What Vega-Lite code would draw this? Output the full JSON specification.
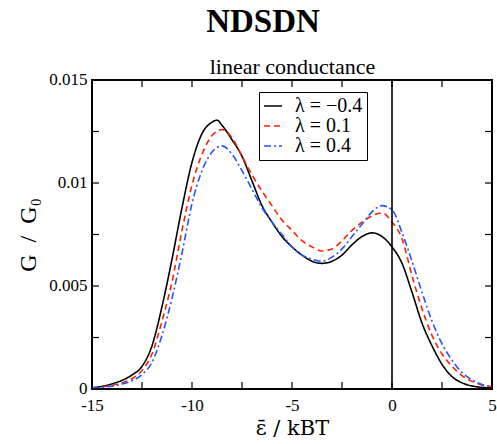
{
  "$schema": "https://vega.github.io/schema/vega-lite/v6.json",
  "autosize": "none",
  "width": 400,
  "height": 309,
  "padding": {"left": 92, "top": 80, "right": 5, "bottom": 55},
  "background": "white",
  "title": {
    "text": "NDSDN",
    "font": "Liberation Serif",
    "fontSize": 33,
    "fontWeight": "bold",
    "color": "black",
    "anchor": "middle",
    "dx": -29,
    "offset": 16
  },
  "datasets": {
    "xticks": [{"tv": -15}, {"tv": -12.5}, {"tv": -10}, {"tv": -7.5}, {"tv": -5}, {"tv": -2.5}, {"tv": 0}, {"tv": 2.5}, {"tv": 5}],
    "yticks": [{"gv": 0}, {"gv": 0.0025}, {"gv": 0.005}, {"gv": 0.0075}, {"gv": 0.01}, {"gv": 0.0125}, {"gv": 0.015}]
  },
  "data": {
    "values": [
      {"x": -15, "G": 0.00006, "series": "l1"},
      {"x": -14.5, "G": 0.00013, "series": "l1"},
      {"x": -14, "G": 0.00025, "series": "l1"},
      {"x": -13.5, "G": 0.00042, "series": "l1"},
      {"x": -13, "G": 0.00068, "series": "l1"},
      {"x": -12.5, "G": 0.0011, "series": "l1"},
      {"x": -12, "G": 0.0021, "series": "l1"},
      {"x": -11.5, "G": 0.0040, "series": "l1"},
      {"x": -11, "G": 0.0063, "series": "l1"},
      {"x": -10.5, "G": 0.0088, "series": "l1"},
      {"x": -10, "G": 0.0110, "series": "l1"},
      {"x": -9.5, "G": 0.0124, "series": "l1"},
      {"x": -9, "G": 0.01295, "series": "l1"},
      {"x": -8.75, "G": 0.01305, "series": "l1"},
      {"x": -8.5, "G": 0.0128, "series": "l1"},
      {"x": -8, "G": 0.0121, "series": "l1"},
      {"x": -7.5, "G": 0.0113, "series": "l1"},
      {"x": -7, "G": 0.0101, "series": "l1"},
      {"x": -6.5, "G": 0.0089, "series": "l1"},
      {"x": -6, "G": 0.0081, "series": "l1"},
      {"x": -5.5, "G": 0.0074, "series": "l1"},
      {"x": -5, "G": 0.0069, "series": "l1"},
      {"x": -4.5, "G": 0.0065, "series": "l1"},
      {"x": -4, "G": 0.0062, "series": "l1"},
      {"x": -3.5, "G": 0.0061, "series": "l1"},
      {"x": -3, "G": 0.0062, "series": "l1"},
      {"x": -2.5, "G": 0.0065, "series": "l1"},
      {"x": -2, "G": 0.0070, "series": "l1"},
      {"x": -1.5, "G": 0.0074, "series": "l1"},
      {"x": -1, "G": 0.00758, "series": "l1"},
      {"x": -0.5, "G": 0.0074, "series": "l1"},
      {"x": 0, "G": 0.0069, "series": "l1"},
      {"x": 0.5, "G": 0.0061, "series": "l1"},
      {"x": 1, "G": 0.0047, "series": "l1"},
      {"x": 1.5, "G": 0.0032, "series": "l1"},
      {"x": 2, "G": 0.0021, "series": "l1"},
      {"x": 2.5, "G": 0.0012, "series": "l1"},
      {"x": 3, "G": 0.0006, "series": "l1"},
      {"x": 3.5, "G": 0.0003, "series": "l1"},
      {"x": 4, "G": 0.00015, "series": "l1"},
      {"x": 4.5, "G": 0.00008, "series": "l1"},
      {"x": 5, "G": 0.00005, "series": "l1"},

      {"x": -15, "G": 0.00005, "series": "l2"},
      {"x": -14.5, "G": 0.0001, "series": "l2"},
      {"x": -14, "G": 0.00018, "series": "l2"},
      {"x": -13.5, "G": 0.0003, "series": "l2"},
      {"x": -13, "G": 0.0005, "series": "l2"},
      {"x": -12.5, "G": 0.0009, "series": "l2"},
      {"x": -12, "G": 0.0017, "series": "l2"},
      {"x": -11.5, "G": 0.0033, "series": "l2"},
      {"x": -11, "G": 0.0052, "series": "l2"},
      {"x": -10.5, "G": 0.0077, "series": "l2"},
      {"x": -10, "G": 0.0099, "series": "l2"},
      {"x": -9.5, "G": 0.0114, "series": "l2"},
      {"x": -9, "G": 0.0123, "series": "l2"},
      {"x": -8.5, "G": 0.0126, "series": "l2"},
      {"x": -8, "G": 0.0122, "series": "l2"},
      {"x": -7.5, "G": 0.0113, "series": "l2"},
      {"x": -7, "G": 0.0104, "series": "l2"},
      {"x": -6.5, "G": 0.0096, "series": "l2"},
      {"x": -6, "G": 0.0089, "series": "l2"},
      {"x": -5.5, "G": 0.0082, "series": "l2"},
      {"x": -5, "G": 0.0077, "series": "l2"},
      {"x": -4.5, "G": 0.0072, "series": "l2"},
      {"x": -4, "G": 0.0069, "series": "l2"},
      {"x": -3.5, "G": 0.0067, "series": "l2"},
      {"x": -3, "G": 0.0068, "series": "l2"},
      {"x": -2.5, "G": 0.0072, "series": "l2"},
      {"x": -2, "G": 0.0077, "series": "l2"},
      {"x": -1.5, "G": 0.0081, "series": "l2"},
      {"x": -1, "G": 0.0084, "series": "l2"},
      {"x": -0.5, "G": 0.00855, "series": "l2"},
      {"x": 0, "G": 0.0081, "series": "l2"},
      {"x": 0.5, "G": 0.0073, "series": "l2"},
      {"x": 1, "G": 0.0055, "series": "l2"},
      {"x": 1.5, "G": 0.0039, "series": "l2"},
      {"x": 2, "G": 0.0026, "series": "l2"},
      {"x": 2.5, "G": 0.0017, "series": "l2"},
      {"x": 3, "G": 0.0011, "series": "l2"},
      {"x": 3.5, "G": 0.00065, "series": "l2"},
      {"x": 4, "G": 0.00037, "series": "l2"},
      {"x": 4.5, "G": 0.0002, "series": "l2"},
      {"x": 5, "G": 0.0001, "series": "l2"},

      {"x": -15, "G": 0.00004, "series": "l3"},
      {"x": -14.5, "G": 0.00008, "series": "l3"},
      {"x": -14, "G": 0.00014, "series": "l3"},
      {"x": -13.5, "G": 0.00024, "series": "l3"},
      {"x": -13, "G": 0.0004, "series": "l3"},
      {"x": -12.5, "G": 0.0007, "series": "l3"},
      {"x": -12, "G": 0.0013, "series": "l3"},
      {"x": -11.5, "G": 0.0026, "series": "l3"},
      {"x": -11, "G": 0.0044, "series": "l3"},
      {"x": -10.5, "G": 0.0066, "series": "l3"},
      {"x": -10, "G": 0.0090, "series": "l3"},
      {"x": -9.5, "G": 0.0106, "series": "l3"},
      {"x": -9, "G": 0.0115, "series": "l3"},
      {"x": -8.5, "G": 0.0118, "series": "l3"},
      {"x": -8, "G": 0.0114, "series": "l3"},
      {"x": -7.5, "G": 0.0106, "series": "l3"},
      {"x": -7, "G": 0.0097, "series": "l3"},
      {"x": -6.5, "G": 0.0088, "series": "l3"},
      {"x": -6, "G": 0.0081, "series": "l3"},
      {"x": -5.5, "G": 0.0075, "series": "l3"},
      {"x": -5, "G": 0.0069, "series": "l3"},
      {"x": -4.5, "G": 0.0065, "series": "l3"},
      {"x": -4, "G": 0.0063, "series": "l3"},
      {"x": -3.5, "G": 0.0062, "series": "l3"},
      {"x": -3, "G": 0.0064, "series": "l3"},
      {"x": -2.5, "G": 0.0068, "series": "l3"},
      {"x": -2, "G": 0.0074, "series": "l3"},
      {"x": -1.5, "G": 0.0080, "series": "l3"},
      {"x": -1, "G": 0.0086, "series": "l3"},
      {"x": -0.5, "G": 0.0089, "series": "l3"},
      {"x": 0, "G": 0.0087, "series": "l3"},
      {"x": 0.5, "G": 0.0076, "series": "l3"},
      {"x": 1, "G": 0.0062, "series": "l3"},
      {"x": 1.5, "G": 0.0047, "series": "l3"},
      {"x": 2, "G": 0.0033, "series": "l3"},
      {"x": 2.5, "G": 0.0022, "series": "l3"},
      {"x": 3, "G": 0.0014, "series": "l3"},
      {"x": 3.5, "G": 0.0008, "series": "l3"},
      {"x": 4, "G": 0.00045, "series": "l3"},
      {"x": 4.5, "G": 0.00022, "series": "l3"},
      {"x": 5, "G": 0.0001, "series": "l3"}
    ]
  },
  "layer": [
    {
      "mark": {"type": "line", "interpolate": "monotone", "strokeWidth": 1.6, "clip": true},
      "encoding": {
        "x": {
          "field": "x", "type": "quantitative",
          "scale": {"domain": [-15, 5], "nice": false, "zero": false},
          "axis": {
            "orient": "bottom",
            "values": [-15, -10, -5, 0, 5],
            "labelExpr": "'' + datum.value",
            "ticks": false,
            "labelPadding": 8,
            "labelFlush": false,
            "title": "ε̄ / kBT",
            "titleFont": "DejaVu Serif",
            "titleFontSize": 21,
            "titlePadding": 4
          }
        },
        "y": {
          "field": "G", "type": "quantitative",
          "scale": {"domain": [0, 0.015], "nice": false},
          "axis": {
            "orient": "left",
            "values": [0, 0.005, 0.01, 0.015],
            "labelExpr": "format(datum.value, '.3~f')",
            "ticks": false,
            "labelPadding": 5,
            "labelOffset": -1,
            "labelFlush": false,
            "title": "G\u00a0\u00a0/\u00a0\u00a0G₀",
            "titleFontSize": 24,
            "titlePadding": 8
          }
        },
        "color": {
          "field": "series", "type": "nominal",
          "scale": {"domain": ["l1", "l2", "l3"], "range": ["#000000", "#ff2200", "#2255ff"]},
          "legend": {
            "orient": "none",
            "legendX": 167,
            "legendY": 12,
            "title": null,
            "labelExpr": "datum.value === 'l1' ? 'λ = −0.4' : datum.value === 'l2' ? 'λ = 0.1' : 'λ = 0.4'",
            "symbolType": "stroke",
            "symbolSize": 324,
            "symbolStrokeWidth": 1.6,
            "labelFont": "Liberation Serif",
            "labelFontSize": 20,
            "labelColor": "black",
            "labelOffset": 12,
            "rowPadding": 0,
            "strokeColor": "black",
            "fillColor": "white",
            "padding": 4
          }
        },
        "strokeDash": {
          "field": "series", "type": "nominal",
          "scale": {"domain": ["l1", "l2", "l3"], "range": [[1, 0], [6, 4], [7, 3, 2, 3]]},
          "legend": null
        }
      }
    },
    {
      "data": {"values": [{"x0": 0}]},
      "mark": {"type": "rule", "color": "black", "strokeWidth": 1.6},
      "encoding": {
        "x": {
          "field": "x0", "type": "quantitative",
          "axis": {
            "orient": "top",
            "ticks": false,
            "labels": false,
            "title": "linear conductance",
            "titleFontSize": 22,
            "titlePadding": 2
          }
        }
      }
    },
    {
      "data": {"name": "xticks"},
      "mark": {"type": "rule", "color": "black", "strokeWidth": 1.2},
      "encoding": {
        "x": {"field": "tv", "type": "quantitative", "axis": null},
        "y": {"datum": 0, "type": "quantitative", "axis": null},
        "y2": {"datum": 0.00034}
      }
    },
    {
      "data": {"name": "xticks"},
      "mark": {"type": "rule", "color": "black", "strokeWidth": 1.2},
      "encoding": {
        "x": {"field": "tv", "type": "quantitative", "axis": null},
        "y": {"datum": 0.015, "type": "quantitative", "axis": null},
        "y2": {"datum": 0.01466}
      }
    },
    {
      "data": {"name": "yticks"},
      "mark": {"type": "rule", "color": "black", "strokeWidth": 1.2},
      "encoding": {
        "y": {"field": "gv", "type": "quantitative", "axis": null},
        "x": {"datum": -15, "type": "quantitative", "axis": null},
        "x2": {"datum": -14.65}
      }
    },
    {
      "data": {"name": "yticks"},
      "mark": {"type": "rule", "color": "black", "strokeWidth": 1.2},
      "encoding": {
        "y": {"field": "gv", "type": "quantitative", "axis": null},
        "x": {"datum": 5, "type": "quantitative", "axis": null},
        "x2": {"datum": 4.65}
      }
    }
  ],
  "resolve": {"axis": {"x": "independent", "y": "independent"}},
  "config": {
    "view": {"stroke": "black", "strokeWidth": 2},
    "axis": {
      "domain": false,
      "grid": false,
      "labelFont": "Liberation Serif",
      "labelFontSize": 17,
      "labelColor": "black",
      "titleFont": "Liberation Serif",
      "titleFontSize": 22,
      "titleFontWeight": "normal",
      "titleColor": "black"
    }
  }
}
